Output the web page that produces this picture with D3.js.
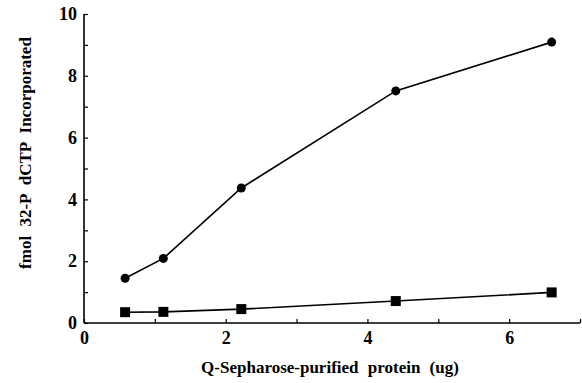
<!DOCTYPE html>
<html>
<head>
<meta charset="utf-8">
<script src="https://cdn.jsdelivr.net/npm/d3@7"></script>
<style>
  body { margin: 0; background: #fff; }
  text { font-family: "Liberation Serif", "Times New Roman", serif; font-weight: bold; fill: #000; }
</style>
</head>
<body>
<script>
// values
const protein = [0.58, 1.12, 2.22, 4.4, 6.6];
const circleSeries = [1.45, 2.09, 4.37, 7.51, 9.09];
const squareSeries = [0.35, 0.36, 0.45, 0.71, 0.99];
const xTicks = [0, 1, 2, 3, 4, 5, 6, 7];
const yTicks = [0, 1, 2, 3, 4, 5, 6, 7, 8, 9, 10];

const width = 582, height = 383;

const svg = d3.select('body')
    .append('svg')
    .attr('width', width)
    .attr('height', height);

const x = d3.scaleLinear().domain([0, 7]).range([84, 580]);
const y = d3.scaleLinear().domain([0, 10]).range([323, 14]);

// x axis, ticks pointing up into the plot
const xAxis = svg.append('g')
    .attr('transform', `translate(0,${y(0)})`)
    .call(d3.axisBottom(x)
        .tickValues(xTicks)
        .tickSize(-4)
        .tickPadding(8)
        .tickFormat(d => (d % 2 === 0 && d < 7) ? d : ''));
xAxis.select('.domain').attr('d', `M${x(0)},0H${x(7)}`).attr('stroke-width', 1.6);
xAxis.selectAll('.tick line').attr('stroke-width', 1.2);
xAxis.selectAll('.tick text').style('font-size', '18px');

// y axis, ticks pointing right
const yAxis = svg.append('g')
    .attr('transform', `translate(${x(0)},0)`)
    .call(d3.axisLeft(y)
        .tickValues(yTicks)
        .tickSize(-4)
        .tickPadding(7)
        .tickFormat(d => d % 2 === 0 ? d : ''));
yAxis.select('.domain').attr('d', `M0,${y(0)}V${y(10)}`).attr('stroke-width', 1.6);
yAxis.selectAll('.tick line').attr('stroke-width', 1.2);
yAxis.selectAll('.tick text').style('font-size', '18px');

const line = d3.line()
    .x(d => x(d[0]))
    .y(d => y(d[1]));

const circlePts = protein.map((p, i) => [p, circleSeries[i]]);
const squarePts = protein.map((p, i) => [p, squareSeries[i]]);

svg.append('path')
    .datum(circlePts)
    .attr('d', line)
    .attr('fill', 'none')
    .attr('stroke', '#000')
    .attr('stroke-width', 1.6);

svg.append('path')
    .datum(squarePts)
    .attr('d', line)
    .attr('fill', 'none')
    .attr('stroke', '#000')
    .attr('stroke-width', 1.6);

svg.selectAll('.dot')
    .data(circlePts)
    .join('circle')
    .attr('class', 'dot')
    .attr('cx', d => x(d[0]))
    .attr('cy', d => y(d[1]))
    .attr('r', 4.5)
    .attr('fill', '#000');

svg.selectAll('.sq')
    .data(squarePts)
    .join('rect')
    .attr('class', 'sq')
    .attr('x', d => x(d[0]) - 5)
    .attr('y', d => y(d[1]) - 5)
    .attr('width', 10)
    .attr('height', 10)
    .attr('fill', '#000');

// axis titles
svg.append('text')
    .attr('x', 330)
    .attr('y', 373)
    .attr('text-anchor', 'middle')
    .style('font-size', '17px')
    .style('word-spacing', '5px')
    .text('Q-Sepharose-purified protein (ug)');

svg.append('text')
    .attr('transform', 'translate(31,153) rotate(-90)')
    .attr('text-anchor', 'middle')
    .style('font-size', '17px')
    .style('word-spacing', '5px')
    .text('fmol 32-P dCTP Incorporated');
</script>
</body>
</html>
